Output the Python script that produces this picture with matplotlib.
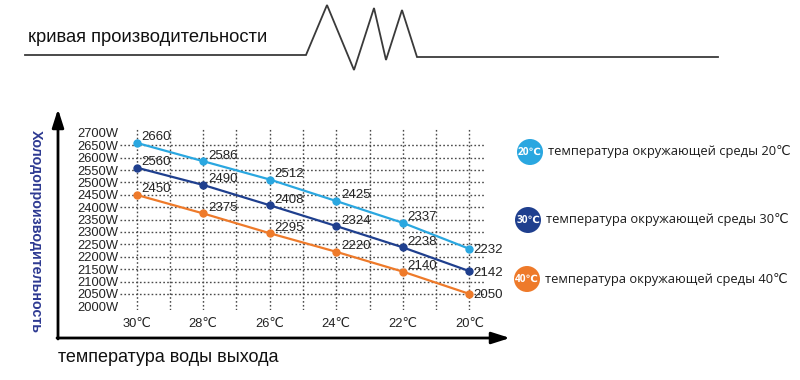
import matplotlib
matplotlib.use("Agg")
import matplotlib.pyplot as plt
from matplotlib.patches import Circle

plt.rcParams['font.family'] = ['Liberation Sans', 'DejaVu Sans']

# ---- data ----
water_temps = [30, 28, 26, 24, 22, 20]
xtick_labels = ['30℃', '28℃', '26℃', '24℃', '22℃', '20℃']
ambient_labels = ['20℃', '30℃', '40℃']
series_20 = [2660, 2586, 2512, 2425, 2337, 2232]
series_30 = [2560, 2490, 2408, 2324, 2238, 2142]
series_40 = [2450, 2375, 2295, 2220, 2140, 2050]
ytick_values = [2000, 2050, 2100, 2150, 2200, 2250, 2300, 2350, 2400,
                2450, 2500, 2550, 2600, 2650, 2700]
ytick_labels = [f'{v}W' for v in ytick_values]
ygrid_values = ytick_values[1:-1]
xgrid_values = list(range(20, 31))
legend_texts = ['температура окружающей среды 20℃',
                'температура окружающей среды 30℃',
                'температура окружающей среды 40℃']

colors = ['#2aa7e0', '#1f3f8e', '#ee7a2a']
all_series = [series_20, series_30, series_40]

W, H = 800, 380
fig = plt.figure(figsize=(W / 100, H / 100), dpi=100)
fig.patch.set_facecolor('white')

# overlay in pixel coordinates for decorations
ov = fig.add_axes([0, 0, 1, 1])
ov.set_xlim(0, W)
ov.set_ylim(H, 0)
ov.axis('off')

# header decoration
zx = [25, 306, 327, 354, 374, 386, 402, 417, 718]
zy = [55, 55, 5, 70, 8, 60, 10, 57, 57]
ov.plot(zx, zy, color='#3a3a3a', lw=1.3, solid_joinstyle='miter')
ov.text(28, 37, 'кривая производительности', fontsize=13.2, color='#111111',
        ha='left', va='center')

# axes arrows
ov.annotate('', xy=(58, 109), xytext=(58, 339),
            arrowprops=dict(arrowstyle='-|>,head_length=1.1,head_width=0.35', lw=2, color='black',
                            shrinkA=0, shrinkB=0))
ov.annotate('', xy=(510, 338), xytext=(57, 338),
            arrowprops=dict(arrowstyle='-|>,head_length=1.1,head_width=0.35', lw=2, color='black',
                            shrinkA=0, shrinkB=0))
ov.text(58, 358, 'температура воды выхода', fontsize=13.0, color='#111111',
        ha='left', va='center')
ov.text(36, 231, 'Холодопроизводительность', fontsize=10.3, fontweight='bold',
        color='#2e3a92', rotation=-90, ha='center', va='center')

# legend
circ_pos = [(530, 152), (528, 220), (527, 279)]
for (cx, cy), c, lab, txt in zip(circ_pos, colors, ambient_labels, legend_texts):
    ov.add_patch(Circle((cx, cy), 13, color=c, lw=0))
    ov.text(cx, cy + 0.5, lab, fontsize=7.3, color='white', fontweight='bold',
            ha='center', va='center', family=['Open Sans', 'DejaVu Sans'])
    ov.text(cx + 18, cy, txt, fontsize=9.3, color='#1a1a1a', ha='left', va='center',
            family=['Open Sans', 'DejaVu Sans'])

# main chart
left, right, top, bottom = 120, 486, 128, 310
ax = fig.add_axes([left / W, (H - bottom) / H, (right - left) / W, (bottom - top) / H])
ax.patch.set_alpha(0)
ax.set_xlim(30.5, 19.5)
ax.set_ylim(1985, 2720)
for s in ax.spines.values():
    s.set_visible(False)

grid_style = dict(color='#4a4a4a', lw=1.0, linestyle=(0, (1.2, 1.6)), zorder=1)
ax.hlines(ygrid_values, 30.5, 19.5, **grid_style)
ax.vlines(xgrid_values, 1985, 2720, **grid_style)

ax.set_yticks(ytick_values)
ax.set_yticklabels(ytick_labels)
ax.set_xticks(water_temps)
ax.set_xticklabels(xtick_labels)
ax.tick_params(axis='y', length=0, pad=1, labelsize=9.3, labelcolor='#222222')
ax.tick_params(axis='x', length=0, pad=6, labelsize=9.3, labelcolor='#222222')

for ser, c in zip(all_series, colors):
    ax.plot(water_temps, ser, color=c, lw=1.6, marker='o', markersize=5, zorder=3)
    for i, (x, y) in enumerate(zip(water_temps, ser)):
        if i == len(ser) - 1:
            off = (3, -1)
        else:
            off = (3.5, 4)
        ax.annotate(str(y), (x, y), xytext=off, textcoords='offset points',
                    fontsize=9.5, color='#222222', ha='left', va='center', zorder=4)

fig.savefig('out.png', dpi=100, facecolor='white')
